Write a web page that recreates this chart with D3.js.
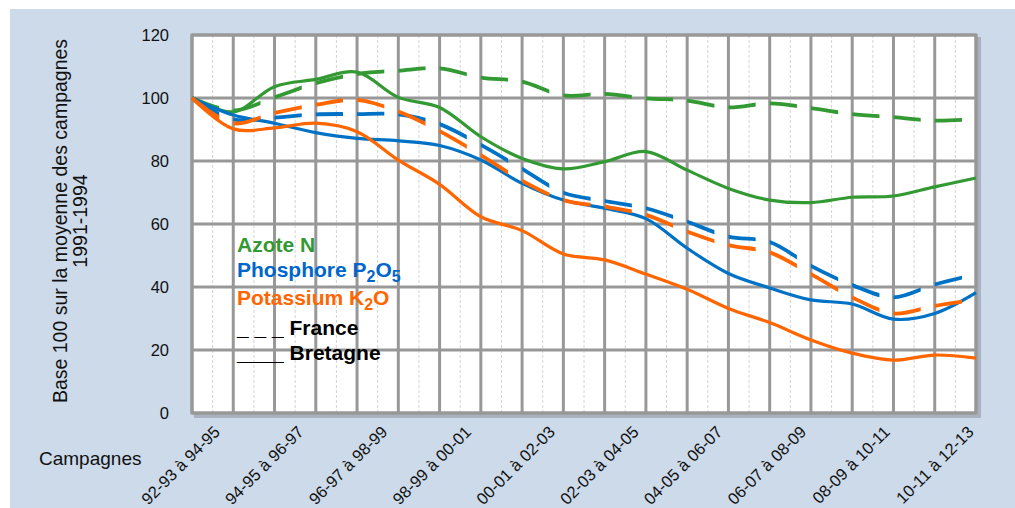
<!DOCTYPE html>
<html>
<head>
<meta charset="utf-8">
<title>Livraisons N P K - base 100</title>
<style>
  body { margin: 0; background: #fff; }
  svg { display: block; font-family: "Liberation Sans", Arial, sans-serif; }
</style>
</head>
<body>
<script src="https://d3js.org/d3.v7.min.js"></script>
<script>

// campagnes (moyennes mobiles sur 3 ans)
var campagnes = ['92-93 à 94-95', '93-94 à 95-96', '94-95 à 96-97', '95-96 à 97-98',
    '96-97 à 98-99', '97-98 à 99-00', '98-99 à 00-01', '99-00 à 01-02',
    '00-01 à 02-03', '01-02 à 03-04', '02-03 à 04-05', '03-04 à 05-06',
    '04-05 à 06-07', '05-06 à 07-08', '06-07 à 08-09', '07-08 à 09-10',
    '08-09 à 10-11', '09-10 à 11-12', '10-11 à 12-13', '11-12 à 13-14'];

// one label out of two on the axis
var tickLabels = ['92-93 à 94-95', '94-95 à 96-97', '96-97 à 98-99', '98-99 à 00-01',
    '00-01 à 02-03', '02-03 à 04-05', '04-05 à 06-07', '06-07 à 08-09',
    '08-09 à 10-11', '10-11 à 12-13'];

var yTicks = [0, 20, 40, 60, 80, 100, 120];

// Bretagne (solid)
var bretagneN = [100, 95.6, 103.6, 105.9, 108.2, 100.2, 97, 87.7, 80.8, 77.5,
    79.8, 83, 77.1, 71.3, 67.6, 66.8, 68.5, 68.9, 71.8, 74.6];
var bretagneP = [100, 94.6, 92, 89, 87.2, 86.4, 84.9, 80.3, 72.9, 67.6,
    65, 61.7, 52.3, 44.3, 39.7, 35.9, 34.6, 29.8, 31.6, 38.2];
var bretagneK = [100, 90.2, 90.5, 92, 89.3, 80.3, 72.6, 62.3, 57.9, 50.5,
    48.6, 44.1, 39.3, 33.2, 28.7, 23.2, 19, 16.8, 18.4, 17.4];

// France (dashed)
var franceN = [100, 96, 100.2, 104.7, 107.6, 108.7, 109.4, 106.5, 105.2, 100.8,
    101.3, 99.9, 99.2, 97, 98.3, 96.8, 94.9, 93.9, 92.8, 93.3];
var franceP = [100, 93.2, 93.8, 94.8, 94.9, 94.8, 91.7, 85.1, 77.5, 69.9,
    67.3, 65, 60.7, 56, 54.3, 46.7, 40.6, 36.7, 40.8, 44];
var franceK = [100, 92, 95.3, 97.8, 99.4, 95.7, 89.5, 81.9, 73.7, 67.6,
    65.5, 62.9, 57.6, 53.3, 51, 44.1, 36.7, 31.6, 34, 36];

var green = '#339933', blue = '#0072C6', orange = '#FF6600';

var series = [
    { name: 'bretagneN', values: bretagneN, color: green, dashed: false },
    { name: 'franceN', values: franceN, color: green, dashed: true },
    { name: 'bretagneP', values: bretagneP, color: blue, dashed: false },
    { name: 'franceP', values: franceP, color: blue, dashed: true },
    { name: 'bretagneK', values: bretagneK, color: orange, dashed: false },
    { name: 'franceK', values: franceK, color: orange, dashed: true }
];

var width = 1015, height = 508;
var plot = { left: 192, right: 976, top: 35, bottom: 413 };

var svg = d3.select('body').append('svg')
    .attr('width', width)
    .attr('height', height);

// background panel
svg.append('rect').attr('x', 10).attr('y', 9)
    .attr('width', width - 10).attr('height', height - 9)
    .attr('fill', '#CCDAEA');

var x = d3.scalePoint().domain(campagnes).range([plot.left, plot.right]);
var y = d3.scaleLinear().domain([0, 120]).range([plot.bottom, plot.top]);
var step = x.step();

// plot frame with a little shadow
svg.append('rect')
    .attr('x', plot.left + 2).attr('y', plot.top + 2)
    .attr('width', plot.right - plot.left + 3).attr('height', plot.bottom - plot.top + 3)
    .attr('fill', '#A9B2BE');
svg.append('rect')
    .attr('x', plot.left).attr('y', plot.top)
    .attr('width', plot.right - plot.left).attr('height', plot.bottom - plot.top)
    .attr('fill', '#fff');

var grid = svg.append('g');

// dotted lines halfway between two campagnes
grid.selectAll('line.minor')
    .data(campagnes.slice(1))
    .enter().append('line')
    .attr('class', 'minor')
    .attr('x1', function (d) { return x(d) - step / 2; })
    .attr('x2', function (d) { return x(d) - step / 2; })
    .attr('y1', plot.top).attr('y2', plot.bottom)
    .attr('stroke', '#d4d4d4').attr('stroke-width', 1)
    .attr('stroke-dasharray', '3,2');

grid.selectAll('line.vmajor')
    .data(campagnes)
    .enter().append('line')
    .attr('class', 'vmajor')
    .attr('x1', function (d) { return x(d); })
    .attr('x2', function (d) { return x(d); })
    .attr('y1', plot.top).attr('y2', plot.bottom)
    .attr('stroke', '#989898').attr('stroke-width', 3);

grid.selectAll('line.hmajor')
    .data(yTicks)
    .enter().append('line')
    .attr('class', 'hmajor')
    .attr('x1', plot.left).attr('x2', plot.right)
    .attr('y1', function (d) { return y(d); })
    .attr('y2', function (d) { return y(d); })
    .attr('stroke', '#989898').attr('stroke-width', 3);

svg.append('rect')
    .attr('x', plot.left).attr('y', plot.top)
    .attr('width', plot.right - plot.left).attr('height', plot.bottom - plot.top)
    .attr('fill', 'none').attr('stroke', '#989898').attr('stroke-width', 3);

// y axis labels
var yAxis = d3.axisLeft(y).tickValues(yTicks).tickSize(0).tickPadding(23);
var gy = svg.append('g')
    .attr('transform', 'translate(' + plot.left + ',0)')
    .call(yAxis);
gy.select('.domain').remove();
gy.selectAll('text')
    .attr('font-size', 16.5)
    .attr('font-family', '"Liberation Sans", Arial, sans-serif')
    .attr('fill', '#111');

// x axis labels (one out of two), slanted
var xl = d3.scalePoint().domain(tickLabels)
    .range([x(tickLabels[0]) + 29, x(tickLabels[tickLabels.length - 1]) + 40]);
svg.append('g').selectAll('text')
    .data(tickLabels)
    .enter().append('text')
    .attr('transform', function (d) { return 'translate(' + xl(d) + ',433) rotate(-45)'; })
    .attr('text-anchor', 'end')
    .attr('font-size', 16.5)
    .attr('fill', '#111')
    .text(function (d) { return d; });

// axis titles
svg.append('text')
    .attr('x', 39).attr('y', 465)
    .attr('font-size', 19).attr('fill', '#111')
    .text('Campagnes');

var yTitle = svg.append('text')
    .attr('transform', 'translate(70,221) rotate(-90)')
    .attr('text-anchor', 'middle')
    .attr('font-size', 19.5).attr('fill', '#111');
yTitle.append('tspan').attr('x', 0).attr('dy', '-0.15em').text('Base 100 sur la moyenne des campagnes');
yTitle.append('tspan').attr('x', 0).attr('dy', '1.0em').text('1991-1994');

// dashes restart at every campagne (Excel style) -> clip
var clip = svg.append('defs').append('clipPath').attr('id', 'dash-clip');
clip.selectAll('rect')
    .data(campagnes.slice(0, -1))
    .enter().append('rect')
    .attr('x', function (d) { return x(d); })
    .attr('width', step * 0.66)
    .attr('y', 0).attr('height', height);

var line = d3.line()
    .x(function (d, i) { return x(campagnes[i]); })
    .y(function (d) { return y(d); })
    .curve(d3.curveCatmullRom.alpha(0.5));

svg.append('g').selectAll('path')
    .data(series)
    .enter().append('path')
    .attr('d', function (d) { return line(d.values); })
    .attr('fill', 'none')
    .attr('stroke', function (d) { return d.color; })
    .attr('stroke-width', function (d) { return d.dashed ? 3.8 : 3.2; })
    .attr('clip-path', function (d) { return d.dashed ? 'url(#dash-clip)' : null; });

// legend
var lg = svg.append('g')
    .attr('font-size', 21).attr('font-weight', 'bold');
lg.append('text').attr('x', 237).attr('y', 252).attr('fill', green).text('Azote N');

var lp = lg.append('text').attr('x', 237).attr('y', 277).attr('fill', '#0066CC');
lp.append('tspan').text('Phosphore P');
lp.append('tspan').attr('font-size', 16).attr('dy', 5).text('2');
lp.append('tspan').attr('dy', -5).text('O');
lp.append('tspan').attr('font-size', 16).attr('dy', 5).text('5');

var lk = lg.append('text').attr('x', 237).attr('y', 305).attr('fill', orange);
lk.append('tspan').text('Potassium K');
lk.append('tspan').attr('font-size', 16).attr('dy', 5).text('2');
lk.append('tspan').attr('dy', -5).text('O');

lg.append('text').attr('x', 237).attr('y', 335).attr('fill', '#000').text('_ _ _ France');
lg.append('text').attr('x', 237).attr('y', 360).attr('fill', '#000').text('____ Bretagne');

</script>
</body>
</html>
